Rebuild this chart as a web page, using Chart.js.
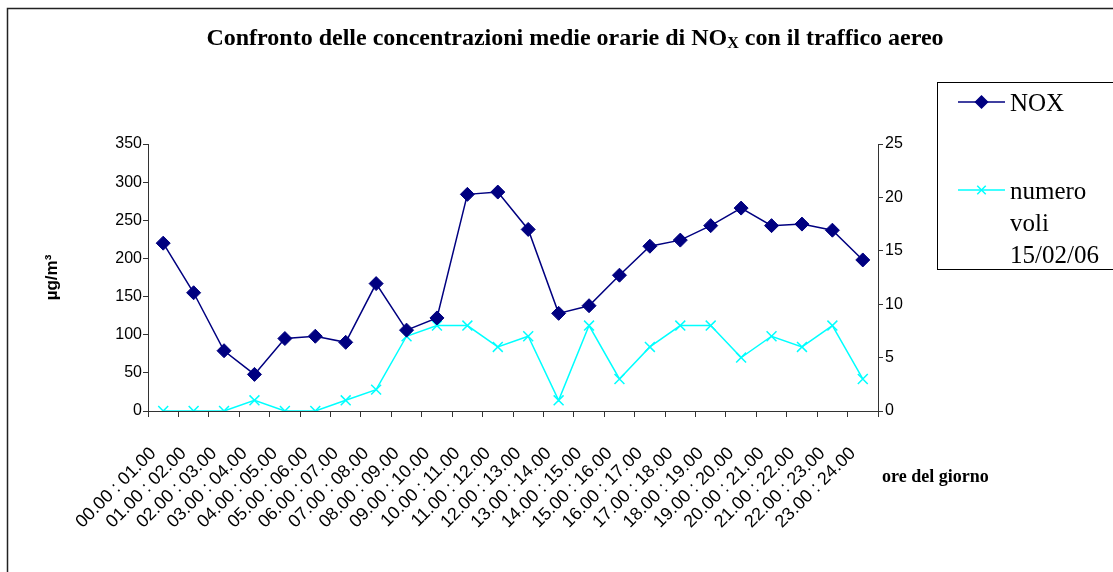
<!DOCTYPE html>
<html>
<head>
<meta charset="utf-8">
<script src="https://cdn.jsdelivr.net/npm/chart.js@4/dist/chart.umd.min.js"></script>
<style>
  html, body { margin: 0; padding: 0; background: #fff; }
  #wrap { width: 1113px; height: 572px; }
</style>
</head>
<body>
<div id="wrap"><canvas id="chart" width="1113" height="572"></canvas></div>
<script>
// hourly intervals
var hourLabels = [
  '00.00 : 01.00', '01.00 : 02.00', '02.00 : 03.00', '03.00 : 04.00',
  '04.00 : 05.00', '05.00 : 06.00', '06.00 : 07.00', '07.00 : 08.00',
  '08.00 : 09.00', '09.00 : 10.00', '10.00 : 11.00', '11.00 : 12.00',
  '12.00 : 13.00', '13.00 : 14.00', '14.00 : 15.00', '15.00 : 16.00',
  '16.00 : 17.00', '17.00 : 18.00', '18.00 : 19.00', '19.00 : 20.00',
  '20.00 : 21.00', '21.00 : 22.00', '22.00 : 23.00', '23.00 : 24.00'
];

// NOx, ug/m3 (left axis)
var noxValues = [220, 155, 79, 48, 95, 98, 90, 167, 106, 122, 284, 287,
                 238, 128, 138, 178, 216, 224, 243, 266, 243, 245, 237, 198];

// flights on 15/02/06 (right axis)
var flightCounts = [0, 0, 0, 1, 0, 0, 1, 2, 7, 8, 8, 6,
                    7, 1, 8, 3, 6, 8, 8, 5, 7, 6, 8, 3];

var noxMax = 350, noxStep = 50;
var flightMax = 25, flightStep = 5;

var titleText = ['Confronto delle concentrazioni medie orarie di NO', 'X', ' con il traffico aereo'];
var xAxisName = 'ore del giorno';
var yAxisName = '\u00b5g/m\u00b3';

var tickFont = { family: 'Liberation Sans', size: 16 };

var framePlugin = {
  id: 'frame',
  beforeDraw: function(chart) {
    var ctx = chart.ctx;
    ctx.save();
    ctx.fillStyle = '#fff';
    ctx.fillRect(0, 0, chart.width, chart.height);
    ctx.strokeStyle = '#222';
    ctx.lineWidth = 1.5;
    ctx.strokeRect(7.5, 8.5, 1300, 800);
    ctx.restore();
  },
  afterDraw: function(chart) {
    var ctx = chart.ctx;
    ctx.save();
    ctx.fillStyle = '#000';
    ctx.textBaseline = 'alphabetic';

    // title with subscript X
    var big = 'bold 24px "Liberation Serif"';
    var small = 'bold 16px "Liberation Serif"';
    ctx.font = big;
    var w1 = ctx.measureText(titleText[0]).width;
    var w3 = ctx.measureText(titleText[2]).width;
    ctx.font = small;
    var w2 = ctx.measureText(titleText[1]).width;
    var x = 575 - (w1 + w2 + w3) / 2;
    var base = 45;
    ctx.font = big;
    ctx.fillText(titleText[0], x, base);
    ctx.font = small;
    ctx.fillText(titleText[1], x + w1, base + 3);
    ctx.font = big;
    ctx.fillText(titleText[2], x + w1 + w2, base);

    // x axis name
    ctx.font = 'bold 18px "Liberation Serif"';
    ctx.textBaseline = 'middle';
    ctx.fillText(xAxisName, 882, 477);

    // legend box
    ctx.strokeStyle = '#000';
    ctx.lineWidth = 1;
    ctx.strokeRect(937.5, 82.5, 200, 187);
    ctx.font = '25px "Liberation Serif"';
    var rows = [102, 190];
    chart.data.datasets.forEach(function(ds, i) {
      var y = rows[i];
      ctx.strokeStyle = ds.borderColor;
      ctx.lineWidth = 1.5;
      ctx.beginPath();
      ctx.moveTo(958, y);
      ctx.lineTo(1005, y);
      ctx.stroke();
      ctx.fillStyle = ds.pointBackgroundColor;
      ctx.strokeStyle = ds.pointBorderColor;
      Chart.helpers.drawPoint(ctx, {
        pointStyle: ds.pointStyle, radius: ds.pointRadius - 1,
        rotation: 0, borderWidth: ds.pointBorderWidth
      }, 981.5, y);
      // wrap label by words
      ctx.fillStyle = '#000';
      var words = ds.label.split(' ');
      var lines = [], cur = '';
      words.forEach(function(wd) {
        var test = cur ? cur + ' ' + wd : wd;
        if (ctx.measureText(test).width > 95 && cur) { lines.push(cur); cur = wd; }
        else cur = test;
      });
      lines.push(cur);
      lines.forEach(function(ln, k) {
        ctx.fillText(ln, 1010, y + 2 + k * 32);
      });
    });
    ctx.restore();
  }
};

var ctx = document.getElementById('chart').getContext('2d');
var chart = new Chart(ctx, {
  type: 'line',
  data: {
    labels: hourLabels,
    datasets: [{
      label: 'NOX',
      data: noxValues,
      yAxisID: 'y',
      borderColor: '#000080',
      borderWidth: 1.5,
      pointStyle: 'rectRot',
      pointRadius: 7,
      pointBackgroundColor: '#000080',
      pointBorderColor: '#000080',
      pointBorderWidth: 1,
      tension: 0
    }, {
      label: 'numero voli 15/02/06',
      data: flightCounts,
      yAxisID: 'y1',
      borderColor: '#00ffff',
      borderWidth: 1.5,
      pointStyle: 'crossRot',
      pointRadius: 7,
      pointBackgroundColor: '#00ffff',
      pointBorderColor: '#00ffff',
      pointBorderWidth: 1.5,
      tension: 0
    }]
  },
  options: {
    responsive: false,
    animation: false,
    layout: { padding: { left: 0, top: 144, right: 195, bottom: 0 } },
    plugins: {
      legend: { display: false },
      tooltip: { enabled: false }
    },
    scales: {
      x: {
        offset: true,
        grid: { display: true, drawOnChartArea: false, offset: true, tickLength: 6, color: '#333' },
        border: { color: '#333' },
        ticks: {
          autoSkip: false, minRotation: 45, maxRotation: 45,
          font: { family: 'Liberation Sans', size: 18 }, color: '#000', labelOffset: -10, padding: 26
        },
        afterFit: function(s) { s.height = 161; }
      },
      y: {
        position: 'left',
        min: 0, max: noxMax,
        grid: { drawOnChartArea: false, tickLength: 5, color: '#333' },
        border: { color: '#333' },
        ticks: { stepSize: noxStep, font: tickFont, color: '#000', padding: 1 },
        title: {
          display: true, text: yAxisName, color: '#000',
          font: { family: 'Liberation Sans', size: 17, weight: 'bold' },
          padding: { top: 42, bottom: 0 }
        },
        afterFit: function(s) { s.width = 148; }
      },
      y1: {
        position: 'right',
        min: 0, max: flightMax,
        grid: { drawOnChartArea: false, tickLength: 5, color: '#333' },
        border: { color: '#333' },
        ticks: { stepSize: flightStep, font: tickFont, color: '#000', padding: 2 },
        afterFit: function(s) { s.width = 40; }
      }
    }
  },
  plugins: [framePlugin]
});
</script>
</body>
</html>
